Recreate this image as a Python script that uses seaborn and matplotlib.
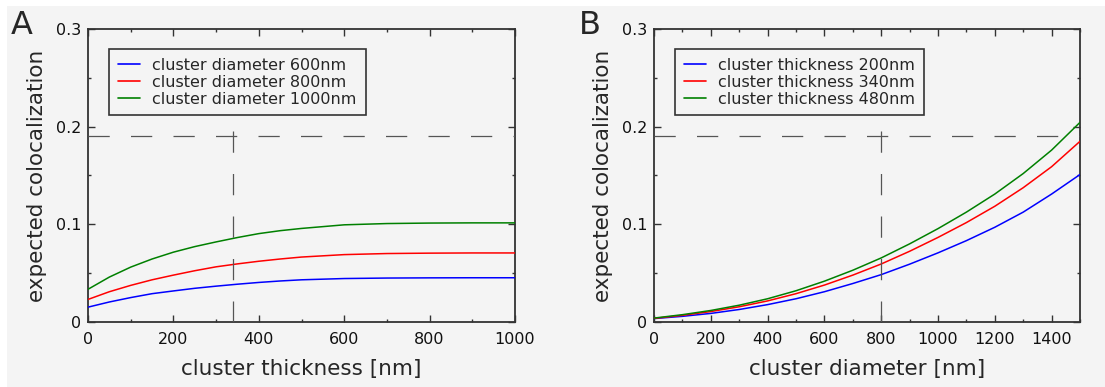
import numpy as np
import pandas as pd
import matplotlib
matplotlib.use("Agg")
import matplotlib.pyplot as plt
from matplotlib.patches import Rectangle
from matplotlib.ticker import MultipleLocator, FuncFormatter
import seaborn as sns

# ---------------- data ----------------
thickness = [0, 50, 100, 150, 200, 250, 300, 350, 400, 450, 500, 600, 700, 800, 900, 1000]
diam600 = [0.0152, 0.0205, 0.0250, 0.0290, 0.0318, 0.0345, 0.0367, 0.0387, 0.0405, 0.0420,
           0.0432, 0.0445, 0.0450, 0.0452, 0.0453, 0.0453]
diam800 = [0.0231, 0.0310, 0.0375, 0.0432, 0.0480, 0.0525, 0.0565, 0.0595, 0.0622, 0.0645,
           0.0665, 0.0690, 0.0701, 0.0705, 0.0707, 0.0707]
diam1000 = [0.0335, 0.0460, 0.0562, 0.0645, 0.0715, 0.0772, 0.0820, 0.0865, 0.0905, 0.0935,
            0.0958, 0.0995, 0.1008, 0.1013, 0.1015, 0.1015]

diameter = [0, 100, 200, 300, 400, 500, 600, 700, 800, 900, 1000, 1100, 1200, 1300, 1400, 1500]
thick200 = [0.0035, 0.0058, 0.0088, 0.0128, 0.0178, 0.0238, 0.0310, 0.0394, 0.0485, 0.0592,
            0.0708, 0.0833, 0.0970, 0.1125, 0.1310, 0.1510]
thick340 = [0.0037, 0.0068, 0.0107, 0.0156, 0.0216, 0.0290, 0.0378, 0.0480, 0.0594, 0.0724,
            0.0866, 0.1018, 0.1185, 0.1375, 0.1590, 0.1850]
thick480 = [0.0040, 0.0075, 0.0118, 0.0172, 0.0238, 0.0320, 0.0418, 0.0530, 0.0656, 0.0800,
            0.0956, 0.1125, 0.1310, 0.1520, 0.1760, 0.2044]

labels_A = ["cluster diameter 600nm", "cluster diameter 800nm", "cluster diameter 1000nm"]
labels_B = ["cluster thickness 200nm", "cluster thickness 340nm", "cluster thickness 480nm"]
xlabel_A = "cluster thickness [nm]"
xlabel_B = "cluster diameter [nm]"
ylabel = "expected colocalization"
panel_letters = ["A", "B"]

ref_y = 0.19
ref_top = 0.196
ref_x_A = 340
ref_x_B = 800

# ---------------- style ----------------
sns.set_style("ticks")
BG = "#f4f4f4"
plt.rcParams["font.family"] = ["DejaVu Sans"]
plt.rcParams["axes.edgecolor"] = "#333333"
plt.rcParams["xtick.color"] = "#333333"
plt.rcParams["ytick.color"] = "#333333"
plt.rcParams["xtick.labelcolor"] = "#111111"
plt.rcParams["ytick.labelcolor"] = "#111111"

colors = ["#0000ff", "#ff0000", "#008000"]

W, H = 1105, 387
fig = plt.figure(figsize=(W / 100, H / 100), dpi=100)
fig.patch.set_facecolor("white")
fig.add_artist(Rectangle((7 / W, 0), 1, (H - 6) / H, transform=fig.transFigure,
                         facecolor=BG, edgecolor="none", zorder=-10))

def px_axes(left, right, top, bottom):
    return [left / W, (H - bottom) / H, (right - left) / W, (bottom - top) / H]

axA = fig.add_axes(px_axes(88, 515, 29, 322))
axB = fig.add_axes(px_axes(654, 1080, 29, 322))

dfA = pd.DataFrame({"x": thickness * 3,
                    "y": diam600 + diam800 + diam1000,
                    "series": [labels_A[0]] * len(thickness) + [labels_A[1]] * len(thickness)
                              + [labels_A[2]] * len(thickness)})
dfB = pd.DataFrame({"x": diameter * 3,
                    "y": thick200 + thick340 + thick480,
                    "series": [labels_B[0]] * len(diameter) + [labels_B[1]] * len(diameter)
                              + [labels_B[2]] * len(diameter)})

dash = (0, (17, 17))

def style_axes(ax, df, labels, xmax, xmajor_max, xlabel, refx, letter, letter_x):
    ax.set_facecolor(BG)
    sns.lineplot(data=df, x="x", y="y", hue="series", hue_order=labels,
                 palette=colors, linewidth=1.1, ax=ax, legend=True, zorder=3)
    ax.axhline(ref_y, color="#555555", lw=0.9, linestyle=dash, zorder=4)
    ax.plot([refx, refx], [ref_top, 0], color="#555555", lw=0.9, linestyle=dash, zorder=4)
    ax.set_xlim(0, xmax)
    ax.set_ylim(0, 0.3)
    ax.set_xticks(np.arange(0, xmajor_max + 1, 200))
    ax.xaxis.set_minor_locator(MultipleLocator(100))
    ax.set_yticks([0, 0.1, 0.2, 0.3])
    ax.yaxis.set_minor_locator(MultipleLocator(0.05))
    ax.yaxis.set_major_formatter(FuncFormatter(lambda v, p: "0" if abs(v) < 1e-9 else f"{v:.1f}"))
    ax.tick_params(which="both", direction="in", top=True, right=True, width=1.0)
    ax.tick_params(which="major", length=5, labelsize=11.5, pad=5)
    ax.tick_params(axis="x", which="major", pad=7)
    ax.tick_params(which="minor", length=2.5)
    for s in ax.spines.values():
        s.set_linewidth(1.3)
        s.set_color("#333333")
    ax.set_xlabel(xlabel, fontsize=15.5, labelpad=9)
    ax.set_ylabel(ylabel, fontsize=15.5, labelpad=6)
    leg = ax.legend(loc="upper left", bbox_to_anchor=(0.05, 0.932), borderaxespad=0,
                    fontsize=11.5, frameon=True, fancybox=False, framealpha=1,
                    facecolor=BG, edgecolor="#333333", handlelength=1.35,
                    handletextpad=0.8, labelspacing=0.12, borderpad=0.55)
    leg.get_frame().set_linewidth(1.2)
    for h in leg.get_lines():
        h.set_linewidth(1.2)
    fig.text(letter_x / W, 1 - 26 / H, letter, fontsize=23, ha="left", va="center")

style_axes(axA, dfA, labels_A, 1000, 1000, xlabel_A, ref_x_A, panel_letters[0], 11)
style_axes(axB, dfB, labels_B, 1500, 1400, xlabel_B, ref_x_B, panel_letters[1], 579)

fig.savefig("out.png", dpi=100, facecolor=fig.get_facecolor())
